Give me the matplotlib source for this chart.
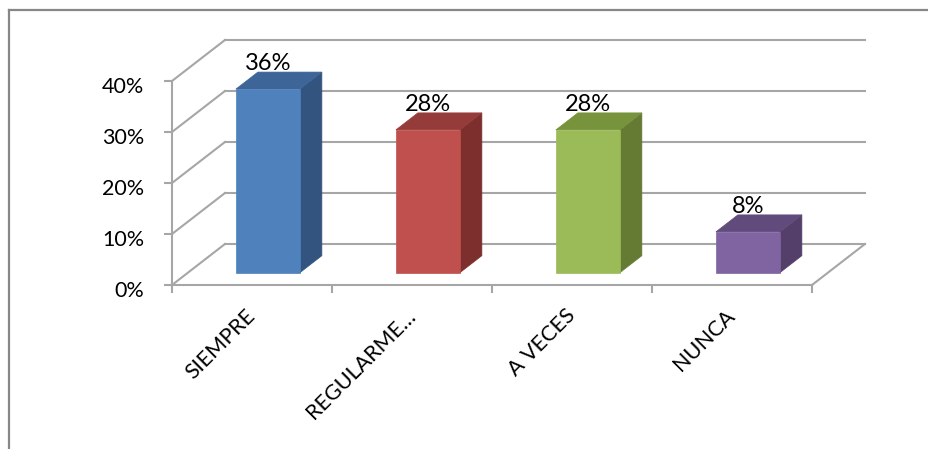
import numpy as np
import matplotlib
matplotlib.use("Agg")
import matplotlib.pyplot as plt
from matplotlib.patches import Polygon, Rectangle
from matplotlib.lines import Line2D
from matplotlib.ticker import PercentFormatter
from matplotlib.transforms import ScaledTranslation

# Survey results
categories = ["SIEMPRE", "REGULARME\u2026", "A VECES", "NUNCA"]
values = [36, 28, 28, 8]
value_labels = ["36%", "28%", "28%", "8%"]
y_ticks = [0, 10, 20, 30, 40]

plt.rcParams["font.family"] = ["Lato", "DejaVu Sans"]

W, H = 929, 449
fig = plt.figure(figsize=(W / 100, H / 100), dpi=100)
fig.patch.set_facecolor("white")

# Front plane of the 3-D box: x in category units, y in percent
ax = fig.add_axes([172 / W, (H - 285) / H, (811.7 - 171.7) / W, (285 - 81) / H])
ax.set_xlim(0, len(categories))
ax.set_ylim(0, 40)
ax.patch.set_visible(False)

grid_c = "#a6a6a6"
grid_lw = 1.5

# oblique depth of the box (in data units)
DX, DY = 0.331, 8.04
# bars occupy this slice of the depth
D0, D1 = 0.30, 0.715
BAR_W = 0.4

# back wall gridlines and side wall gridlines
n = len(categories)
for yv in y_ticks:
    ax.add_line(Line2D([DX, n + DX], [yv + DY, yv + DY], color=grid_c, lw=grid_lw,
                       clip_on=False, zorder=1))
    ax.add_line(Line2D([0, DX], [yv, yv + DY], color=grid_c, lw=grid_lw,
                       clip_on=False, zorder=1))
# right edge of the floor
ax.add_line(Line2D([n, n + DX], [0, DY], color=grid_c, lw=grid_lw, clip_on=False, zorder=1))

front_c = ["#4f81bd", "#c0504d", "#9bbb59", "#8064a2"]
top_c = ["#3d6598", "#953c3a", "#77933c", "#614b7d"]
side_c = ["#33547f", "#7c2f2d", "#657a33", "#533f69"]

bx, by = (D1 - D0) * DX, (D1 - D0) * DY
for i, v in enumerate(values):
    x0 = i + 0.5 - BAR_W / 2 + D0 * DX
    x1 = x0 + BAR_W
    y0 = D0 * DY
    y1 = v + D0 * DY
    side = Polygon([(x1, y0), (x1 + bx, y0 + by), (x1 + bx, y1 + by), (x1, y1)],
                   closed=True, facecolor=side_c[i], edgecolor=side_c[i], lw=0.5,
                   clip_on=False, zorder=3)
    top = Polygon([(x0, y1), (x1, y1), (x1 + bx, y1 + by), (x0 + bx, y1 + by)],
                  closed=True, facecolor=top_c[i], edgecolor=top_c[i], lw=0.5,
                  clip_on=False, zorder=3)
    front = Rectangle((x0, y0), BAR_W, v, facecolor=front_c[i], edgecolor=front_c[i],
                      lw=0.5, clip_on=False, zorder=4)
    for p in (side, top, front):
        ax.add_patch(p)
    lbl = ax.text(i + 0.5 + D0 * DX, y1 + by, value_labels[i], ha="center",
                  va="baseline", fontsize=17, color="black", zorder=5, clip_on=False)
    lbl.set_transform(ax.transData + ScaledTranslation(0, 2 / 100, fig.dpi_scale_trans))

# spines = front vertical axis and front floor edge
for s in ("top", "right"):
    ax.spines[s].set_visible(False)
for s in ("left", "bottom"):
    ax.spines[s].set_color(grid_c)
    ax.spines[s].set_linewidth(grid_lw)
    ax.spines[s].set_zorder(2)

ax.set_yticks(y_ticks)
ax.yaxis.set_major_formatter(PercentFormatter(100, decimals=0))
ax.tick_params(axis="y", length=6, width=grid_lw, color=grid_c, pad=14, labelsize=15.5)
for t in ax.get_yticklabels():
    t.set_transform(t.get_transform() + ScaledTranslation(0, -4 / 100, fig.dpi_scale_trans))

ax.set_xticks(np.arange(n) + 0.5, labels=categories)
ax.set_xticks(np.arange(n + 1), minor=True)
ax.tick_params(axis="x", which="major", length=0, pad=20, labelsize=15.5)
ax.tick_params(axis="x", which="minor", length=6, width=grid_lw, color=grid_c)
plt.setp(ax.get_xticklabels(), rotation=45, ha="right", va="center",
         rotation_mode="anchor")

# chart frame (top and left border)
frame_c = "#878787"
fig.add_artist(Line2D([8.5 / W, 8.5 / W], [0, 1 - 10 / H], color=frame_c, lw=1.6,
                      transform=fig.transFigure))
fig.add_artist(Line2D([8.5 / W, 1], [1 - 10 / H, 1 - 10 / H], color=frame_c, lw=1.6,
                      transform=fig.transFigure))

fig.savefig("out.png", dpi=100)
